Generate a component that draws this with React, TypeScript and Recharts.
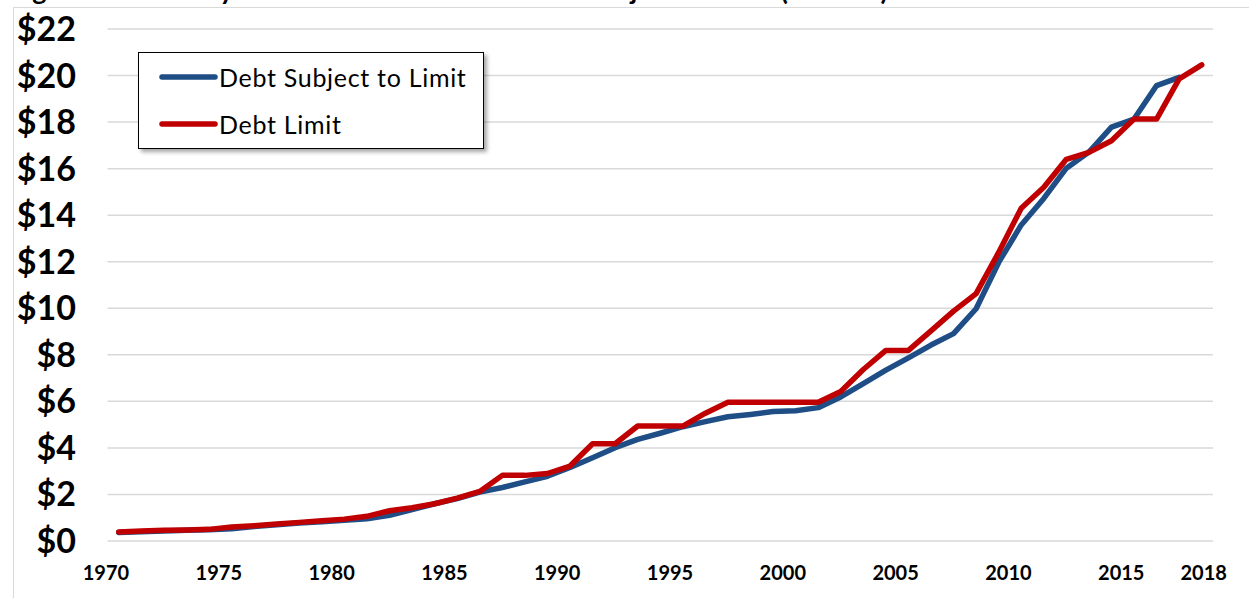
import React from "react";
import { LineChart, Line, XAxis, YAxis, CartesianGrid } from "recharts";

const YEARS = [
  1970, 1971, 1972, 1973, 1974, 1975, 1976, 1977, 1978, 1979,
  1980, 1981, 1982, 1983, 1984, 1985, 1986, 1987, 1988, 1989,
  1990, 1991, 1992, 1993, 1994, 1995, 1996, 1997, 1998, 1999,
  2000, 2001, 2002, 2003, 2004, 2005, 2006, 2007, 2008, 2009,
  2010, 2011, 2012, 2013, 2014, 2015, 2016, 2017, 2018,
];

const DEBT_SUBJECT = [
  0.37, 0.4, 0.43, 0.46, 0.48, 0.53, 0.62, 0.7, 0.77, 0.83,
  0.89, 0.96, 1.1, 1.35, 1.6, 1.82, 2.1, 2.3, 2.54, 2.78,
  3.16, 3.58, 4.01, 4.37, 4.63, 4.91, 5.13, 5.34, 5.44, 5.56,
  5.6, 5.73, 6.19, 6.76, 7.34, 7.87, 8.42, 8.91, 9.98, 11.97,
  13.58, 14.72, 16.02, 16.71, 17.78, 18.13, 19.57, 19.92, null,
];

const DEBT_LIMIT = [
  0.39, 0.43, 0.46, 0.47, 0.5, 0.6, 0.66, 0.73, 0.8, 0.87,
  0.94, 1.06, 1.3, 1.43, 1.6, 1.84, 2.13, 2.82, 2.82, 2.9,
  3.22, 4.18, 4.18, 4.94, 4.94, 4.94, 5.49, 5.96, 5.96, 5.96,
  5.96, 5.96, 6.42, 7.37, 8.19, 8.19, 9.03, 9.88, 10.63, 12.4,
  14.3, 15.2, 16.4, 16.7, 17.2, 18.13, 18.13, 19.86, 20.46,
];

const X_TICKS = [1970, 1975, 1980, 1985, 1990, 1995, 2000, 2005, 2010, 2015, 2018];
const Y_TICKS = [0, 2, 4, 6, 8, 10, 12, 14, 16, 18, 20, 22];

const SERIES = [
  { key: "subject", name: "Debt Subject to Limit", color: "#1F4E86" },
  { key: "limit", name: "Debt Limit", color: "#C00000" },
];

const TITLE = "Figure 1. Statutory Debt Limit and Federal Debt Subject to Limit (Trillions)";

const data = YEARS.map((year, i) => ({
  year,
  subject: DEBT_SUBJECT[i],
  limit: DEBT_LIMIT[i],
}));

const FONT = "Lato, 'Open Sans', sans-serif";

const XTick = (props: any) => {
  const { x, payload } = props;
  const isLast = payload.value === X_TICKS[X_TICKS.length - 1];
  return (
    <text
      x={x + (isLast ? 2 : -12.8)}
      y={580}
      textAnchor="middle"
      fontFamily={FONT}
      fontWeight={700}
      fontSize={20}
      fill="#000"
    >
      {payload.value}
    </text>
  );
};

const YTick = (props: any) => {
  const { y, payload } = props;
  return (
    <text
      x={76}
      y={y + 12}
      textAnchor="end"
      fontFamily={FONT}
      fontWeight={700}
      fontSize={34}
      fill="#000"
    >
      {"$" + payload.value}
    </text>
  );
};

const LegendBox = () => (
  <div
    style={{
      position: "absolute",
      left: 138,
      top: 52,
      width: 346,
      height: 97,
      boxSizing: "border-box",
      border: "1.5px solid #000",
      background: "#fff",
      boxShadow: "3px 3px 4px rgba(0,0,0,0.35)",
      fontFamily: FONT,
      fontSize: 25,
      letterSpacing: 0.7,
      color: "#000",
    }}
  >
    {SERIES.map((s, i) => (
      <div
        key={s.key}
        style={{
          position: "absolute",
          left: 19,
          top: 9 + i * 47,
          height: 30,
          display: "flex",
          alignItems: "center",
          whiteSpace: "nowrap",
        }}
      >
        <svg width={60} height={10} style={{ marginRight: 1 }}>
          <line x1={4} y1={5} x2={57} y2={5} stroke={s.color} strokeWidth={5.5} strokeLinecap="round" />
        </svg>
        <span>{s.name}</span>
      </div>
    ))}
  </div>
);

export default function App() {
  return (
    <div
      style={{
        position: "absolute",
        left: 0,
        top: 0,
        width: 1249,
        height: 598,
        overflow: "hidden",
        background: "#fff",
      }}
    >
      <svg width={1249} height={12} style={{ position: "absolute", left: 0, top: 0 }}>
        <text x={888} y={0} textAnchor="end" fontFamily={FONT} fontWeight={700} fontSize={27} fill="#000">
          {TITLE}
        </text>
      </svg>
      <div
        style={{
          position: "absolute",
          left: 13,
          top: 7,
          width: 1300,
          height: 700,
          border: "1px solid #d9d9d9",
        }}
      />
      <div style={{ position: "absolute", left: 0, top: 0 }}>
        <LineChart
          width={1249}
          height={598}
          data={data}
          margin={{ top: 29, right: 36, bottom: 0, left: 0 }}
        >
          <CartesianGrid vertical={false} stroke="#d9d9d9" strokeWidth={1.5} />
          <XAxis
            dataKey="year"
            type="number"
            domain={[1969.5, 2018.5]}
            ticks={X_TICKS}
            tick={<XTick />}
            axisLine={false}
            tickLine={false}
            height={57}
            interval={0}
          />
          <YAxis
            domain={[0, 22]}
            ticks={Y_TICKS}
            tick={<YTick />}
            axisLine={false}
            tickLine={false}
            width={107.5}
            interval={0}
          />
          {SERIES.map((s) => (
            <Line
              key={s.key}
              dataKey={s.key}
              name={s.name}
              type="linear"
              stroke={s.color}
              strokeWidth={5.5}
              strokeLinecap="round"
              strokeLinejoin="round"
              dot={false}
              activeDot={false}
              isAnimationActive={false}
              connectNulls={false}
            />
          ))}
        </LineChart>
      </div>
      <LegendBox />
    </div>
  );
}
